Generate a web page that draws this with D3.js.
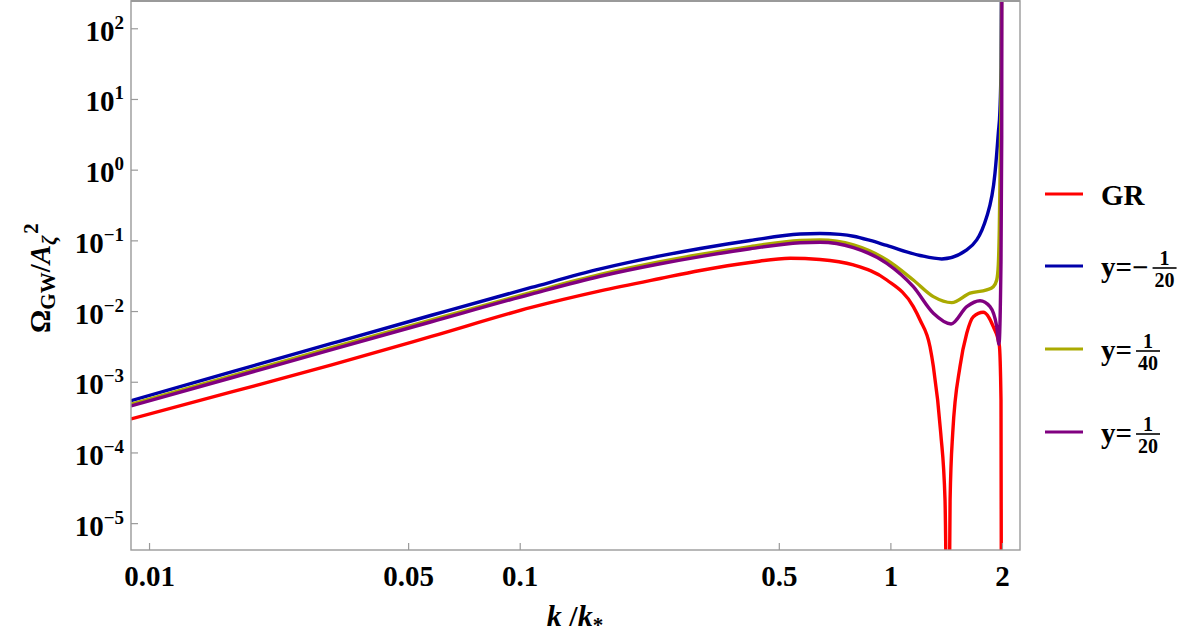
<!DOCTYPE html>
<html><head><meta charset="utf-8">
<script src="https://cdn.jsdelivr.net/npm/d3@7"></script>
<style>
html,body{margin:0;padding:0;background:#fff;}
svg text{font-family:"Liberation Serif","Times New Roman",serif;font-weight:bold;fill:#000;}
</style></head>
<body><svg id="chart" width="1200" height="640"></svg>
<script>
// ---- data ----
const xTicks = [0.01, 0.05, 0.1, 0.5, 1, 2];
const xTickLabels = ["0.01", "0.05", "0.1", "0.5", "1", "2"];
const yTicks = [1e2, 1e1, 1e0, 1e-1, 1e-2, 1e-3, 1e-4, 1e-5];
const yTickExponents = ["2", "1", "0", "\u22121", "\u22122", "\u22123", "\u22124", "\u22125"];

const kGR = [0.00894, 0.0167, 0.0311, 0.0578, 0.1075, 0.165, 0.2394, 0.307, 0.4185, 0.5364, 0.6455, 0.795, 0.978, 1.153, 1.2025, 1.279, 1.306, 1.367, 1.404, 1.432, 1.449, 1.473, 1.541, 1.607, 1.674, 1.781, 1.895, 1.967, 1.988, 1.997];
const omegaGR = [2.98e-4, 7.17e-4, 1.728e-3, 4.37e-3, 1.124e-2, 1.925e-2, 2.89e-2, 3.75e-2, 4.87e-2, 5.58e-2, 5.37e-2, 4.49e-2, 2.75e-2, 1.154e-2, 7.46e-3, 3.13e-3, 1.64e-3, 1.89e-4, 2.13e-5, 1e-8, 2.13e-5, 1.89e-4, 1.64e-3, 4.85e-3, 8.33e-3, 9.62e-3, 6.02e-3, 3.31e-3, 5.53e-4, 1e-9];

const kYm20 = [0.00894, 0.0167, 0.0311, 0.0578, 0.1075, 0.165, 0.2394, 0.307, 0.4185, 0.571, 0.6455, 0.732, 0.795, 0.882, 0.978, 1.2025, 1.376, 1.607, 1.819, 1.915, 1.955, 1.975, 1.988, 2.0];
const omegaYm20 = [5.40e-4, 1.376e-3, 3.48e-3, 8.72e-3, 2.157e-2, 3.94e-2, 6.02e-2, 7.68e-2, 9.97e-2, 0.1231, 0.1252, 0.1213, 0.1143, 0.0997, 0.0847, 0.0611, 0.0546, 0.0731, 0.2163, 0.889, 3.30, 6.99, 28.4, 1e4];

const kY40 = [0.00894, 0.0167, 0.0311, 0.0578, 0.1075, 0.165, 0.2394, 0.307, 0.4185, 0.571, 0.6455, 0.795, 0.978, 1.153, 1.306, 1.464, 1.640, 1.819, 1.895, 1.936, 1.955, 1.967, 1.980, 1.992, 2.0];
const omegaY40 = [4.81e-4, 1.208e-3, 3.03e-3, 7.48e-3, 1.834e-2, 3.29e-2, 4.98e-2, 6.32e-2, 8.17e-2, 9.97e-2, 0.1013, 0.0861, 0.0528, 0.0275, 0.0160, 0.01315, 0.0179, 0.0199, 0.0221, 0.0275, 0.045, 0.14, 1.9, 35.5, 1e4];

const kY20 = [0.00894, 0.0167, 0.0311, 0.0578, 0.1075, 0.165, 0.2394, 0.307, 0.4185, 0.571, 0.6455, 0.795, 0.978, 1.153, 1.306, 1.458, 1.607, 1.745, 1.857, 1.936, 1.963, 1.988, 1.997, 2.0];
const omegaY20 = [4.55e-4, 1.139e-3, 2.854e-3, 7.06e-3, 1.74e-2, 3.11e-2, 4.67e-2, 5.90e-2, 7.60e-2, 9.25e-2, 9.40e-2, 7.88e-2, 4.74e-2, 2.21e-2, 9.31e-3, 6.57e-3, 1.154e-2, 1.40e-2, 1.154e-2, 6.02e-3, 3.39e-3, 0.05, 3, 1e4];

const seriesNames = ["GR", "y=\u2212", "y=", "y="];
const seriesNum = [null, "1", "1", "1"];
const seriesDen = [null, "20", "40", "20"];
const seriesColors = ["#ff0000", "#0000aa", "#aaaa00", "#800080"];

// ---- layout ----
const L = 131, R = 1020, T = 0, B = 550;
const svg = d3.select("#chart");
const x = d3.scaleLog().domain([0.00894, 2.237]).range([L, R]);
const y = d3.scaleLog().domain([Math.pow(10, -5.38), Math.pow(10, 2.4)]).range([B, T]);

svg.append("defs").append("clipPath").attr("id", "clip")
  .append("rect").attr("x", L).attr("y", T).attr("width", R - L).attr("height", B - T);

// curves
const series = [
  {k: kGR, v: omegaGR},
  {k: kYm20, v: omegaYm20},
  {k: kY40, v: omegaY40},
  {k: kY20, v: omegaY20}
];
const line = d3.line().x(d => x(d[0])).y(d => y(d[1])).curve(d3.curveMonotoneX);
const gLines = svg.append("g").attr("clip-path", "url(#clip)");
series.forEach((s, i) => {
  gLines.append("path")
    .datum(s.k.map((kk, j) => [kk, s.v[j]]))
    .attr("d", line)
    .attr("fill", "none")
    .attr("stroke", seriesColors[i])
    .attr("stroke-width", 3.4)
    .attr("stroke-linejoin", "round");
});

// frame
svg.append("rect").attr("x", L).attr("y", 0.8).attr("width", R - L).attr("height", B - 0.8)
  .attr("fill", "none").attr("stroke", "#9a9a9a").attr("stroke-width", 1.4);
svg.append("line").attr("x1", L).attr("x2", R).attr("y1", 0.8).attr("y2", 0.8)
  .attr("stroke", "#9a9a9a").attr("stroke-width", 2.2);

// x axis
const xAxis = d3.axisBottom(x).tickValues(xTicks).tickSize(-7).tickSizeOuter(0).tickPadding(15)
  .tickFormat((d, i) => xTickLabels[i]);
const gx = svg.append("g").attr("transform", `translate(0,${B})`).call(xAxis);
gx.select(".domain").remove();
gx.attr("font-family", null).attr("font-size", 29);
gx.selectAll(".tick line").attr("stroke", "#9a9a9a").attr("stroke-width", 1.2);
gx.selectAll(".tick text").attr("font-size", 29).attr("fill", "#000");

// y axis
const yAxis = d3.axisLeft(y).tickValues(yTicks).tickSize(-7).tickSizeOuter(0).tickPadding(7)
  .tickFormat(() => "");
const gy = svg.append("g").attr("transform", `translate(${L},0)`).call(yAxis);
gy.select(".domain").remove();
gy.attr("font-family", null).attr("font-size", 29);
gy.selectAll(".tick line").attr("stroke", "#9a9a9a").attr("stroke-width", 1.2);
gy.selectAll(".tick text").attr("font-size", 29).attr("fill", "#000")
  .attr("dy", "12px")
  .each(function(d, i) {
    const t = d3.select(this);
    t.append("tspan").text("10");
    t.append("tspan").attr("font-size", 19).attr("dy", "-12px").text(yTickExponents[i]);
  });

// x axis title
const xt = svg.append("text").attr("x", 575).attr("y", 626).attr("text-anchor", "middle").attr("font-size", 30);
xt.append("tspan").attr("font-style", "italic").text("k");
xt.append("tspan").text(" /");
xt.append("tspan").attr("font-style", "italic").text("k");
xt.append("tspan").attr("font-size", 21).attr("dy", "6px").text("*");

// y axis title
const yt = svg.append("text").attr("transform", "translate(50,278) rotate(-90)").attr("text-anchor", "middle").attr("font-size", 29);
yt.append("tspan").text("\u03A9");
yt.append("tspan").attr("font-size", 21).attr("dy", "5px").text("GW");
yt.append("tspan").attr("dy", "-5px").text("/");
yt.append("tspan").attr("font-style", "italic").text("A");
yt.append("tspan").attr("font-style", "italic").attr("font-size", 21).attr("dy", "6px").text("\u03B6");
yt.append("tspan").attr("font-size", 21).attr("dy", "-18px").attr("dx", "2px").text("2");

// legend
const legendY = [194, 266, 349, 432];
const lg = svg.append("g");
seriesNames.forEach((name, i) => {
  const ly = legendY[i];
  lg.append("line").attr("x1", 1045).attr("x2", 1083).attr("y1", ly).attr("y2", ly)
    .attr("stroke", seriesColors[i]).attr("stroke-width", 3);
  const t = lg.append("text").attr("x", 1101).attr("y", ly + 11).attr("font-size", 29).text(name);
  if (seriesNum[i]) {
    const w = t.node().getComputedTextLength();
    const denom = lg.append("text").attr("font-size", 20).attr("text-anchor", "middle").text(seriesDen[i]);
    const dw = denom.node().getComputedTextLength();
    const cx = 1101 + w + 4 + dw / 2 + 2;
    const barY = ly + 2;
    denom.attr("x", cx).attr("y", barY + 19);
    lg.append("text").attr("font-size", 20).attr("text-anchor", "middle").attr("x", cx).attr("y", barY - 3).text(seriesNum[i]);
    lg.append("line").attr("x1", cx - dw / 2 - 2).attr("x2", cx + dw / 2 + 2).attr("y1", barY).attr("y2", barY)
      .attr("stroke", "#000").attr("stroke-width", 1.6);
  }
});
</script></body></html>
